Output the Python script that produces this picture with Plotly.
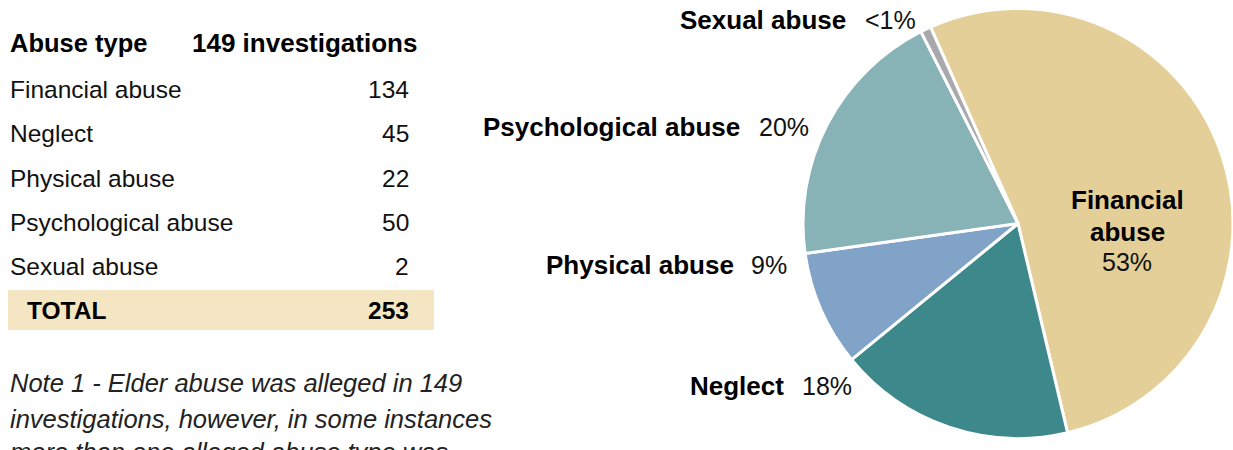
import plotly.graph_objects as go

# ---- data ----
abuse_types = ["Financial abuse", "Neglect", "Physical abuse", "Psychological abuse", "Sexual abuse"]
counts = [134, 45, 22, 50, 2]
total_label = "TOTAL"
total_count = 253
header = ["Abuse type", "149 investigations"]
pct_labels = ["53%", "18%", "9%", "20%", "<1%"]
slice_colors = ["#E4CF98", "#3D888B", "#82A3C8", "#87B3B7", "#A9A9AD"]
note_lines = [
    "Note 1 - Elder abuse was alleged in 149",
    "investigations, however, in some instances",
    "more than one alleged abuse type was",
]

W, H = 1233, 450
FONT = "Liberation Sans, Arial, Helvetica, sans-serif"


def px(x):
    return x / W


def py(y):
    return 1 - y / H


fig = go.Figure()

fig.add_trace(go.Pie(
    labels=abuse_types,
    values=counts,
    sort=False,
    direction="clockwise",
    rotation=-24,
    marker=dict(colors=slice_colors, line=dict(color="white", width=3)),
    textinfo="none",
    hoverinfo="label+value+percent",
    showlegend=False,
    domain=dict(x=[(1018 - 215) / W, 1.0], y=[(H - 223.5 - 215.5) / H, (H - 223.5 + 215.5) / H]),
))

annotations = []


def ann(text, x, y, xanchor="left", size=24, bold=False, italic=False, color="#111111"):
    t = f"<b>{text}</b>" if bold else text
    if italic:
        t = f"<i>{t}</i>"
    annotations.append(dict(
        text=t, x=px(x), y=py(y), xref="paper", yref="paper",
        xanchor=xanchor, yanchor="middle", showarrow=False,
        font=dict(family=FONT, size=size, color=color),
    ))


# ---- table ----
ann(header[0], 8, 43, "left", size=25.5, bold=True, color="#000000")
ann(header[1], 419, 43, "right", size=26, bold=True, color="#000000")
row_y = [90, 134, 178, 222, 266]
for name, c, y in zip(abuse_types, counts, row_y):
    ann(name, 8, y, "left", size=24.5)
    ann(str(c), 411, y, "right", size=24.5)

fig.add_shape(type="rect", xref="paper", yref="paper",
              x0=px(8), x1=px(434), y0=py(330), y1=py(290),
              fillcolor="#F4E6C3", line=dict(width=0), layer="below")
ann(total_label, 25, 310, "left", size=24.5, bold=True, color="#000000")
ann(str(total_count), 411, 310, "right", size=24.5, bold=True, color="#000000")

# ---- note ----
for line, y in zip(note_lines, [383, 419, 452]):
    ann(line, 8, y, "left", size=25.5, italic=True, color="#222222")

# ---- pie labels ----
outside = {
    "Sexual abuse": (848, 863, 20),
    "Psychological abuse": (742, 757, 127),
    "Physical abuse": (736, 749, 265),
    "Neglect": (786, 800, 386),
}
for name, pct in zip(abuse_types, pct_labels):
    if name in outside:
        xe, xs, y = outside[name]
        ann(name, xe, y, "right", size=26, bold=True, color="#000000")
        ann(pct, xs, y, "left", size=25, color="#111111")

fin_words = abuse_types[0].split(" ")
ann(fin_words[0].capitalize(), 1127, 200, "center", size=26, bold=True, color="#000000")
ann(fin_words[1], 1127, 232, "center", size=26, bold=True, color="#000000")
ann(pct_labels[0], 1127, 262, "center", size=25, color="#111111")

fig.update_layout(
    width=W, height=H,
    margin=dict(l=0, r=0, t=0, b=0),
    paper_bgcolor="white", plot_bgcolor="white",
    annotations=annotations,
    font=dict(family=FONT),
)

fig.write_html("out.html")
